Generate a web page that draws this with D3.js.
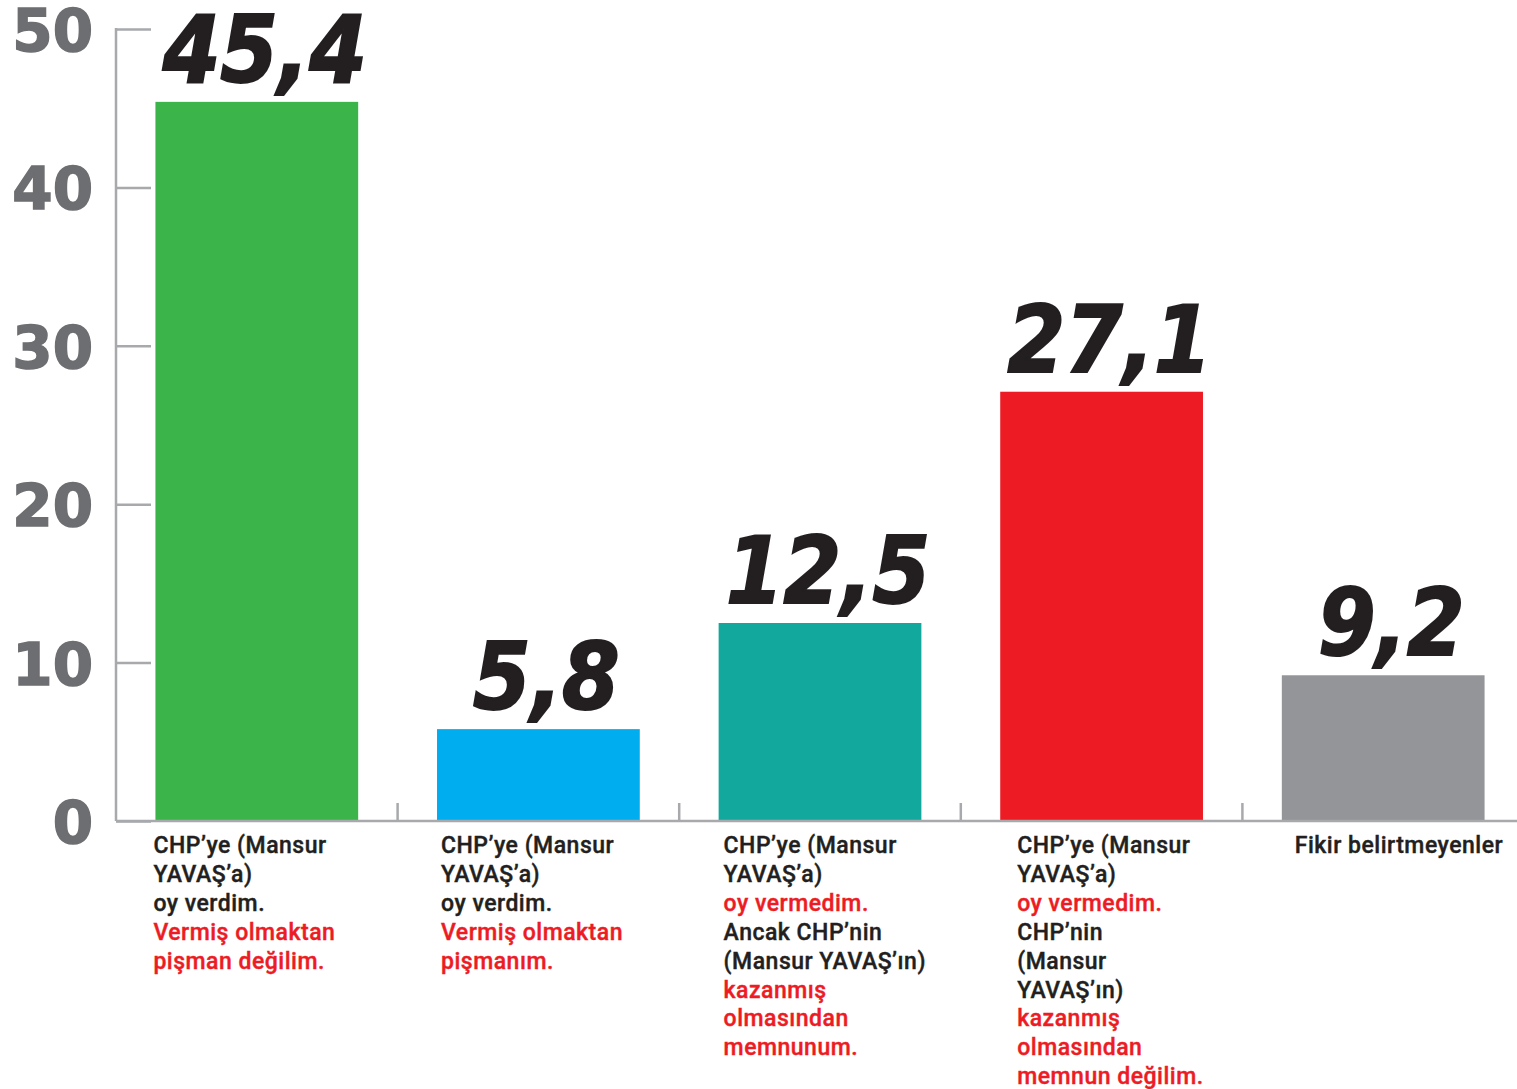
<!DOCTYPE html>
<html><head><meta charset="utf-8">
<script src="https://cdn.jsdelivr.net/npm/d3@7"></script>
<style>body{margin:0;background:#fff;} svg{display:block;}</style>
</head><body>
<svg id="chart" width="1517" height="1089"></svg>
<script>
const categories = ["c1","c2","c3","c4","c5"];
const values = [45.4, 5.8, 12.5, 27.1, 9.2];
const valueLabels = ["45,4","5,8","12,5","27,1","9,2"];
const barColors = ["#3bb54a","#00aeef","#13a89e","#ed1c24","#939598"];
const yTicks = [0,10,20,30,40,50];
// category label lines: [text, highlighted]
const labelLines = [
  [["CHP’ye (Mansur",0],["YAVAŞ’a)",0],["oy verdim.",0],["Vermiş olmaktan",1],["pişman değilim.",1]],
  [["CHP’ye (Mansur",0],["YAVAŞ’a)",0],["oy verdim.",0],["Vermiş olmaktan",1],["pişmanım.",1]],
  [["CHP’ye (Mansur",0],["YAVAŞ’a)",0],["oy vermedim.",1],["Ancak CHP’nin",0],["(Mansur YAVAŞ’ın)",0],["kazanmış",1],["olmasından",1],["memnunum.",1]],
  [["CHP’ye (Mansur",0],["YAVAŞ’a)",0],["oy vermedim.",1],["CHP’nin",0],["(Mansur",0],["YAVAŞ’ın)",0],["kazanmış",1],["olmasından",1],["memnun değilim.",1]],
  [["Fikir belirtmeyenler",0]]
];
const labelDx = [-2, 4, 5, 17, 13];

const svg = d3.select("#chart");
const x = d3.scaleBand().domain(categories).range([116,1524]).paddingInner(0.28).paddingOuter(0.14);
const y = d3.scaleLinear().domain([0,50]).range([821,29]);
const axisColor = "#a7a9ac";

// y axis
const yAxis = d3.axisRight(y).tickValues(yTicks).tickSize(35).tickFormat("");
const gy = svg.append("g").attr("transform","translate(116,0)").call(yAxis);
gy.select(".domain").remove();
gy.selectAll(".tick line").attr("stroke",axisColor).attr("stroke-width",2.5);
svg.append("line").attr("x1",116).attr("x2",116).attr("y1",y(50)-1).attr("y2",y(0))
  .attr("stroke",axisColor).attr("stroke-width",2.5);
svg.append("g").selectAll("text").data(yTicks).join("text")
  .attr("x",93).attr("y",d=>y(d)+22).attr("text-anchor","end")
  .attr("font-family","DejaVu Sans").attr("font-weight","bold").attr("font-size",58)
  .attr("stroke","#6d6e71").attr("stroke-width",1.5)
  .attr("fill","#6d6e71").text(d=>d);

// bars
svg.append("g").selectAll("rect").data(values).join("rect")
  .attr("x",(d,i)=>x(categories[i])).attr("width",x.bandwidth())
  .attr("y",d=>y(d)).attr("height",d=>y(0)-y(d)).attr("fill",(d,i)=>barColors[i]);

// baseline + band separators
svg.append("line").attr("x1",116).attr("x2",1517).attr("y1",y(0)).attr("y2",y(0))
  .attr("stroke",axisColor).attr("stroke-width",2.5);
svg.append("g").selectAll("line").data(categories.slice(1)).join("line")
  .attr("x1",d=>x(d)-x.step()*0.14).attr("x2",d=>x(d)-x.step()*0.14)
  .attr("y1",y(0)-18).attr("y2",y(0)).attr("stroke",axisColor).attr("stroke-width",2.5);

// value labels
svg.append("g").selectAll("text").data(values).join("text")
  .attr("x",(d,i)=>x(categories[i])+x.bandwidth()/2+8).attr("y",d=>y(d)-20)
  .attr("text-anchor","middle")
  .attr("font-family","DejaVu Sans Condensed").attr("font-weight","bold").attr("font-style","oblique")
  .attr("font-size",92).attr("fill","#231f20")
  .attr("stroke","#231f20").attr("stroke-width",2)
  .text((d,i)=>valueLabels[i]);

// category labels
const lg = svg.append("g").attr("font-family","Roboto").attr("font-weight",500)
  .attr("font-size",23).attr("letter-spacing",0.5);
categories.forEach((c,i)=>{
  const t = lg.append("text").attr("x",x(c)+labelDx[i]).attr("y",853);
  labelLines[i].forEach((l,j)=>{
    t.append("tspan").attr("x",x(c)+labelDx[i]).attr("y",853+j*28.9)
      .attr("fill",l[1]?"#ed1c24":"#231f20")
      .attr("stroke",l[1]?"#ed1c24":"#231f20").attr("stroke-width",0.4)
      .text(l[0]);
  });
});
</script>
</body></html>
